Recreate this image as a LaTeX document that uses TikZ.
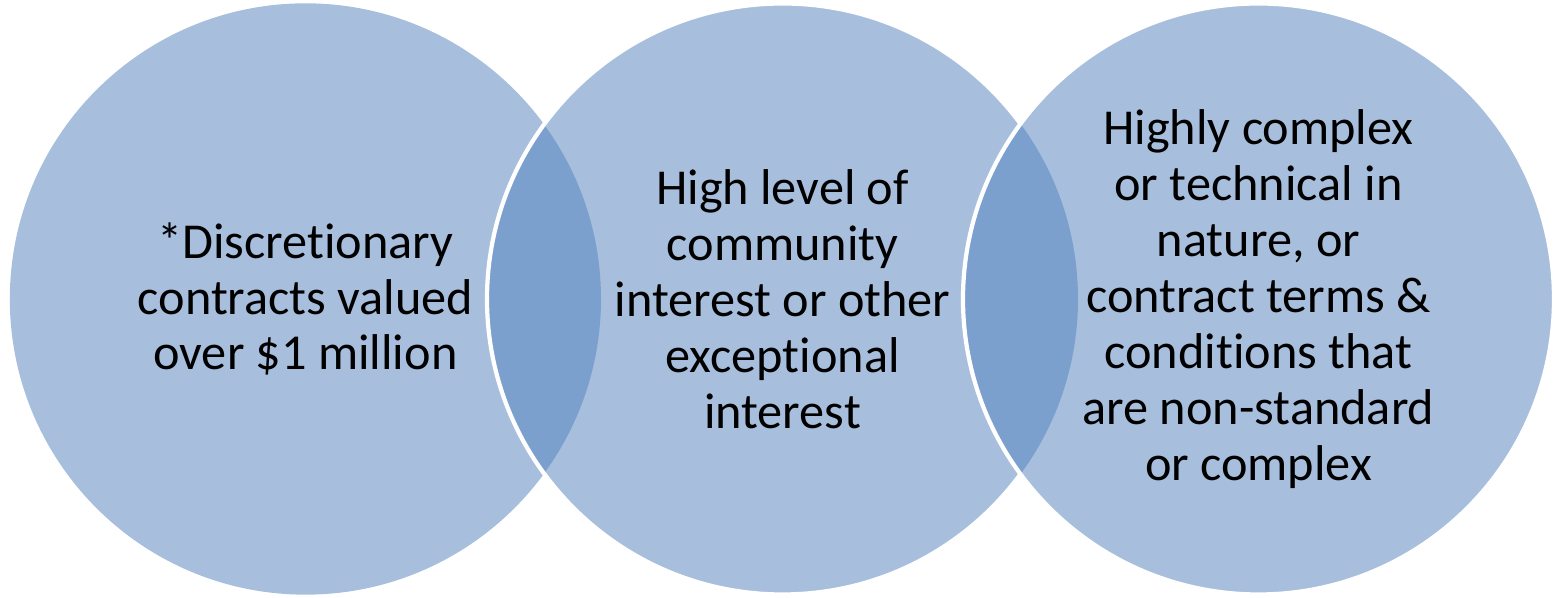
\documentclass[tikz,border=0pt]{standalone}
\usepackage{fontspec}
\setmainfont{Carlito}[Ligatures=NoCommon]
\usetikzlibrary{positioning}
\definecolor{vennlight}{HTML}{A7BFDD}
\definecolor{venndark}{HTML}{7BA0CD}
\newcommand{\venntext}{\fontsize{14.3}{15.9}\selectfont}
\tikzset{%
	disc/.style={circle, minimum size=5.91cm, inner sep=0mm, fill=vennlight},
	rim/.style={draw=white, line width=1.2pt},
	lens/.style={fill=venndark},
	caption/.style={align=center, font=\venntext, inner sep=0mm}
}
\begin{document}
\begin{tikzpicture}[x=0.01cm, y=-0.01cm]
	\useasboundingbox (0,0) rectangle (1559,598);
	\node[disc] (c1) at (305.5,299) {};
	\node[disc] (c2) at (782.5,299) {};
	\begin{scope}
		\clip (c1.center) circle[radius=295.5];
		\fill[lens] (c2.center) circle[radius=295.5];
	\end{scope}
	\draw[rim] (c2.center) circle[radius=295.5];
	\node[disc] (c3) at (1258.5,299) {};
	\begin{scope}
		\clip (c2.center) circle[radius=295.5];
		\fill[lens] (c3.center) circle[radius=295.5];
	\end{scope}
	\draw[rim] (c3.center) circle[radius=295.5];

	\node[caption] (t1) at (c1.center) {*Discretionary\\contracts valued\\over \$1 million};
	\node[caption] (t2) at (c2.center) {High level of\\community\\interest or other\\exceptional\\interest};
	\node[caption] (t3) at (c3.center) {Highly complex\\or technical in\\nature, or\\contract terms \&\\conditions that\\are non-standard\\or complex};
\end{tikzpicture}
\end{document}
